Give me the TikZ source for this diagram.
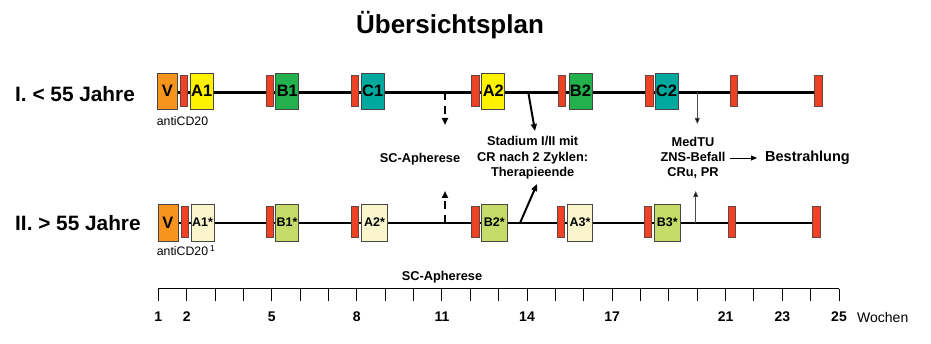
\documentclass[tikz,border=0pt]{standalone}
\usepackage{fontspec}
\setmainfont{Liberation Sans}
\usetikzlibrary{arrows.meta,calc}
\definecolor{corange}{RGB}{247,148,30}
\definecolor{cred}{RGB}{239,65,35}
\definecolor{cyellow}{RGB}{255,242,0}
\definecolor{cgreen}{RGB}{34,177,76}
\definecolor{cteal}{RGB}{0,169,157}
\definecolor{ccream}{RGB}{250,245,205}
\definecolor{clgreen}{RGB}{197,220,106}
\definecolor{cborder}{RGB}{70,70,70}
\newcommand{\fs}[2]{\fontsize{#1}{#2}\selectfont}
\tikzset{
  cbox/.style={draw=cborder, line width=0.8pt, minimum width=23pt, minimum height=36pt, inner sep=0pt, font=\bfseries\fs{16.5}{16.5}},
  sbox/.style={cbox, minimum width=25.5pt, minimum height=37pt, font=\bfseries\fs{12.5}{12.5}},
  rbar/.style={draw=cborder!80!cred, fill=cred, line width=0.6pt, minimum width=7.5pt, minimum height=31pt, inner sep=0pt},
  rowline/.style={line width=2.4pt, black},
  lbl/.style={font=\bfseries\fs{12.8}{15.3}, align=center, inner sep=0pt},
  big/.style={font=\bfseries\fs{20.8}{20.8}, inner sep=0pt, anchor=west},
  thickarr/.style={line width=2pt, -{Triangle[length=7pt,width=6pt]}},
  thinarr/.style={line width=0.8pt, draw=black!70, -{Triangle[length=6pt,width=5pt,fill=black]}},
  dasharr/.style={line width=2pt, dash pattern=on 8pt off 6pt, -{Triangle[length=7pt,width=6pt]}},
}
\begin{document}
\begin{tikzpicture}[x=1pt,y=-1pt]
\useasboundingbox (0,0) rectangle (931,344);
% title
\node[font=\bfseries\fs{26}{26}, inner sep=0pt] (title) at (450,25) {Übersichtsplan};
% row labels
\node[big] (lab1) at (15,94) {I. < 55 Jahre};
\node[big] (lab2) at (15,223) {II. > 55 Jahre};
% row 1 line
\coordinate (s1) at (167.5,92.5);
\coordinate (e1) at (818.3,92.5);
\draw[rowline] (s1) -- (e1);
\node[cbox, fill=corange, minimum width=20pt] (v1) at (167.5,91) {V};
\node[rbar] (r10) at (184,91) {};
\node[cbox, fill=cyellow] (a1) at (201.7,91) {A1};
\node[rbar] (r11) at (269.7,91) {};
\node[cbox, fill=cgreen] (b1) at (287.3,91) {B1};
\node[rbar] (r12) at (354.7,91) {};
\node[cbox, fill=cteal] (c1) at (372.7,91) {C1};
\node[rbar] (r13) at (475.5,91) {};
\node[cbox, fill=cyellow] (a2) at (493.3,91) {A2};
\node[rbar] (r14) at (562,91) {};
\node[cbox, fill=cgreen] (b2) at (580.5,91) {B2};
\node[rbar] (r15) at (649.5,91) {};
\node[cbox, fill=cteal] (c2) at (666.5,91) {C2};
\node[rbar] (r16) at (733.8,91) {};
\node[rbar] (r17) at (818.3,91) {};
\node[font=\fs{12.3}{12.3}, inner sep=0pt, anchor=west] (anti1) at (156.7,121) {antiCD20};
% row 2 line
\coordinate (s2) at (168,223);
\coordinate (e2) at (816.3,223);
\draw[rowline] (s2) -- (e2);
\node[cbox, fill=corange, minimum width=20pt, minimum height=37pt] (v2) at (168,222.5) {V};
\node[rbar] (r20) at (185,222) {};
\node[sbox, fill=ccream, minimum width=23pt] (a1s) at (202.5,222.5) {A1*};
\node[rbar] (r21) at (270,222) {};
\node[sbox, fill=clgreen, minimum width=23pt] (b1s) at (287,222.5) {B1*};
\node[rbar] (r22) at (355,222) {};
\node[sbox, fill=ccream] (a2s) at (374.5,222.5) {A2*};
\node[rbar] (r23) at (475.5,222) {};
\node[sbox, fill=clgreen, minimum width=26.5pt] (b2s) at (494.3,222.5) {B2*};
\node[rbar] (r24) at (561,222) {};
\node[sbox, fill=ccream] (a3s) at (580,222.5) {A3*};
\node[rbar] (r25) at (648,222) {};
\node[sbox, fill=clgreen, minimum width=26.5pt] (b3s) at (667.3,222.5) {B3*};
\node[rbar] (r26) at (732,222) {};
\node[rbar] (r27) at (816.3,222) {};
\node[font=\fs{12.3}{12.3}, inner sep=0pt, anchor=west] (anti2) at (156.7,250.5) {antiCD20\,\textsuperscript{1}};
% arrows between rows
\coordinate (d1s) at (445,92.5);
\coordinate (d1e) at (445,125);
\draw[dasharr] (d1s) -- (d1e);
\coordinate (d2s) at (445,223);
\coordinate (d2e) at (445,191);
\draw[dasharr] (d2s) -- (d2e);
\node[lbl] (sc) at (420,159) {SC-Apherese};
\coordinate (t1s) at (528.3,92.5);
\coordinate (t1e) at (535,131);
\draw[thickarr] (t1s) -- (t1e);
\coordinate (t2s) at (520,223);
\coordinate (t2e) at (537,184);
\draw[thickarr] (t2s) -- (t2e);
\node[lbl] (stad) at (532.7,157.8) {Stadium I/II mit\\CR nach 2 Zyklen:\\Therapieende};
\coordinate (m1s) at (697.3,92.5);
\coordinate (m1e) at (697.3,124);
\draw[thinarr] (m1s) -- (m1e);
\coordinate (m2s) at (695.7,223);
\coordinate (m2e) at (695.7,191);
\draw[thinarr] (m2s) -- (m2e);
\node[lbl] (med) at (693,158) {MedTU\\ZNS-Befall\\CRu, PR};
\node[font=\bfseries\fs{14.5}{14.5}, inner sep=0pt, anchor=west] (bestr) at (765,158) {Bestrahlung};
\coordinate (ba) at (730,158);
\draw[line width=0.9pt, -{Triangle[length=6pt,width=5pt]}, shorten >=8pt] (ba) -- (bestr.west);
% axis
\node[lbl] (scax) at (442,277.5) {SC-Apherese};
\coordinate (ax1) at (158.3,289);
\coordinate (ax2) at (839,289);
\draw[line width=1pt] (ax1) -- (ax2);
\foreach \i in {0,...,24}{
  \draw[line width=0.9pt] ($(ax1)!\i/24!(ax2)$) -- ++(0,12.5);
}
\foreach \w in {1,2,5,8,11,14,17,21,23,25}{
  \pgfmathsetmacro{\xx}{158.3+(\w-1)*28.3625}
  \node[font=\bfseries\fs{14}{14}, inner sep=0pt] at (\xx,317) {\w};
}
\node[font=\fs{14}{14}, inner sep=0pt, anchor=west] (woch) at (857,317) {Wochen};
\end{tikzpicture}
\end{document}
